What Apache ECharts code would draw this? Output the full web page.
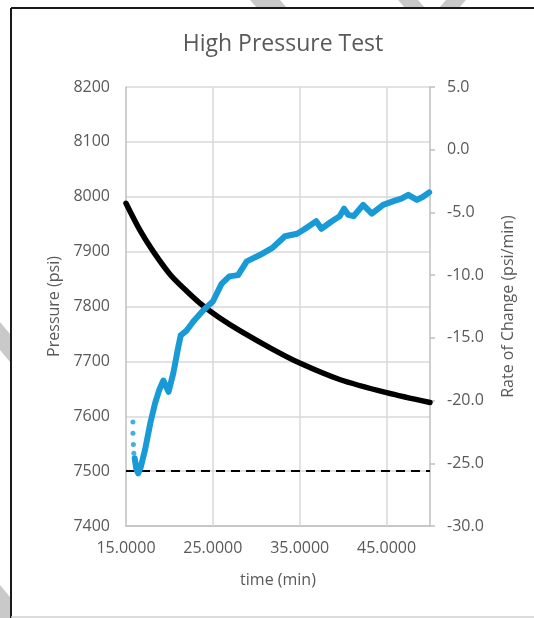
<!DOCTYPE html>
<html>
<head>
<meta charset="utf-8">
<title>High Pressure Test</title>
<script src="https://cdn.jsdelivr.net/npm/echarts@6/dist/echarts.min.js"></script>
<style>
    html, body { margin: 0; padding: 0; background: #fff; }
    #highPressureTest { width: 534px; height: 618px; }
</style>
</head>
<body>
<div id="highPressureTest"></div>
<script>
// pressure curve (black), time in min / pressure in psi
const pressureTime = [15.0, 16.6, 18.15, 20.1, 22.0, 23.9, 25.8, 28.1, 31.9, 35.0, 39.6, 45.0, 50.0];
const pressure     = [7988, 7939, 7900, 7858, 7828, 7801, 7779, 7756, 7722, 7697, 7667, 7643, 7625];

// rate of change (blue), psi/min
const rateTime = [16.0, 16.2, 16.4, 16.7, 17.2, 17.8, 18.35, 18.8, 19.3, 19.9, 20.45, 21.0, 21.3, 22.0, 22.75,
                  23.9, 25.0, 26.0, 26.9, 27.9, 28.9, 30.4, 31.9, 33.3, 34.7, 35.4, 36.9, 37.5, 38.7, 39.6,
                  40.1, 40.6, 41.2, 42.3, 43.3, 44.6, 45.8, 46.7, 47.5, 48.5, 49.2, 49.9];
const rate     = [-24.6, -25.5, -25.8, -25.3, -23.9, -21.8, -20.2, -19.2, -18.4, -19.3, -17.8, -15.8, -14.8, -14.4, -13.7,
                  -12.8, -12.1, -10.7, -10.1, -10.0, -8.9, -8.4, -7.8, -6.9, -6.7, -6.4, -5.7, -6.3, -5.7, -5.3,
                  -4.7, -5.2, -5.3, -4.4, -5.1, -4.4, -4.1, -3.9, -3.6, -4.0, -3.75, -3.4];
// first few isolated readings
const rateDotTime = [15.8, 15.8, 15.85, 15.9];
const rateDot     = [-21.7, -22.6, -23.5, -24.2];

const limitPressure = 7500;
const xTicks = [15, 25, 35, 45];

const labelColor = '#595959';
const gridColor = '#d9d9d9';
const fontFamily = '"Open Sans", sans-serif';

const zip = (a, b) => a.map((v, i) => [v, b[i]]);

const chart = echarts.init(document.getElementById('highPressureTest'));
const option = {
    animation: false,
    textStyle: { fontFamily: fontFamily },
    title: {
        text: 'High Pressure Test',
        left: 278,
        textAlign: 'center',
        top: 28,
        textStyle: { fontSize: 23, fontWeight: 'normal', color: labelColor, fontFamily: fontFamily }
    },
    grid: { left: 126, right: 104, top: 87, bottom: 92 },
    xAxis: {
        type: 'value',
        min: 15,
        max: 50,
        name: 'time (min)',
        nameLocation: 'middle',
        nameGap: 46,
        nameTextStyle: { fontSize: 16, color: labelColor },
        axisLine: { onZero: false, lineStyle: { color: '#bfbfbf', width: 1.5 } },
        axisTick: { show: false, customValues: xTicks },
        axisLabel: {
            customValues: xTicks,
            fontSize: 16,
            color: labelColor,
            margin: 14,
            formatter: v => v.toFixed(4)
        },
        splitLine: { show: false }
    },
    yAxis: [
        {
            type: 'value',
            min: 7400,
            max: 8200,
            interval: 100,
            name: 'Pressure (psi)',
            nameLocation: 'middle',
            nameGap: 64,
            nameTextStyle: { fontSize: 16, color: labelColor },
            axisLine: { show: true, lineStyle: { color: '#bfbfbf', width: 1.5 } },
            axisTick: { show: false },
            axisLabel: { fontSize: 16, color: labelColor, margin: 16, formatter: v => String(v) },
            splitLine: { show: true, lineStyle: { color: gridColor, width: 1.5 } }
        },
        {
            type: 'value',
            position: 'right',
            min: -30,
            max: 5,
            interval: 5,
            name: 'Rate of Change (psi/min)',
            nameLocation: 'middle',
            nameGap: 70,
            nameTextStyle: { fontSize: 16, color: labelColor },
            axisLine: { show: true, lineStyle: { color: '#bfbfbf', width: 1.5 } },
            axisTick: { show: true, length: 5, lineStyle: { color: '#bfbfbf', width: 1.5 } },
            axisLabel: { fontSize: 16, color: labelColor, margin: 17, formatter: v => v.toFixed(1) },
            splitLine: { show: false }
        }
    ],
    series: [
        {
            // vertical gridlines at the labelled times
            name: 'grid',
            type: 'line',
            data: [],
            z: 1,
            markLine: {
                silent: true,
                z: 1,
                symbol: 'none',
                label: { show: false },
                lineStyle: { color: gridColor, type: 'solid', width: 1.5 },
                data: xTicks.slice(1).map(t => ({ xAxis: t }))
            }
        },
        {
            name: 'Pressure',
            type: 'line',
            yAxisIndex: 0,
            data: zip(pressureTime, pressure),
            smooth: 0.3,
            showSymbol: false,
            lineStyle: { color: '#000', width: 5.5, cap: 'round' },
            z: 3,
            markLine: {
                silent: true,
                z: 2,
                symbol: 'none',
                label: { show: false },
                lineStyle: { color: '#000', type: [9, 6], width: 1.8 },
                data: [{ yAxis: limitPressure }]
            }
        },
        {
            name: 'Rate of Change',
            type: 'line',
            yAxisIndex: 1,
            data: zip(rateTime, rate),
            showSymbol: false,
            lineStyle: { color: '#179ad6', width: 6, cap: 'round', join: 'round' },
            z: 4
        },
        {
            name: 'Rate start',
            type: 'scatter',
            yAxisIndex: 1,
            data: zip(rateDotTime, rateDot),
            symbolSize: 5,
            itemStyle: { color: '#179ad6' },
            z: 4
        }
    ],
    graphic: [
        // grey marks that show outside the frame
        { type: 'polygon', shape: { points: [[250, 0], [280, 0], [287, 8], [257, 8]] }, style: { fill: '#c9c9c9' } },
        { type: 'polygon', shape: { points: [[398, 0], [418, 0], [425, 8], [405, 8]] }, style: { fill: '#c9c9c9' } },
        { type: 'polygon', shape: { points: [[446, 0], [466, 0], [459, 8], [439, 8]] }, style: { fill: '#c9c9c9' } },
        { type: 'polygon', shape: { points: [[0, 322], [10, 334], [10, 362], [0, 350]] }, style: { fill: '#c9c9c9' } },
        { type: 'polygon', shape: { points: [[0, 585], [10, 597], [10, 618], [0, 618]] }, style: { fill: '#c9c9c9' } },
        // frame
        { type: 'line', shape: { x1: 11, y1: 8, x2: 534, y2: 8 }, style: { stroke: '#1a1a1a', lineWidth: 2 } },
        { type: 'line', shape: { x1: 11, y1: 8, x2: 11, y2: 618 }, style: { stroke: '#1a1a1a', lineWidth: 2 } },
        { type: 'line', shape: { x1: 11, y1: 617, x2: 534, y2: 617 }, style: { stroke: '#d0d0d0', lineWidth: 1.5 } }
    ]
};
chart.setOption(option);
</script>
</body>
</html>
